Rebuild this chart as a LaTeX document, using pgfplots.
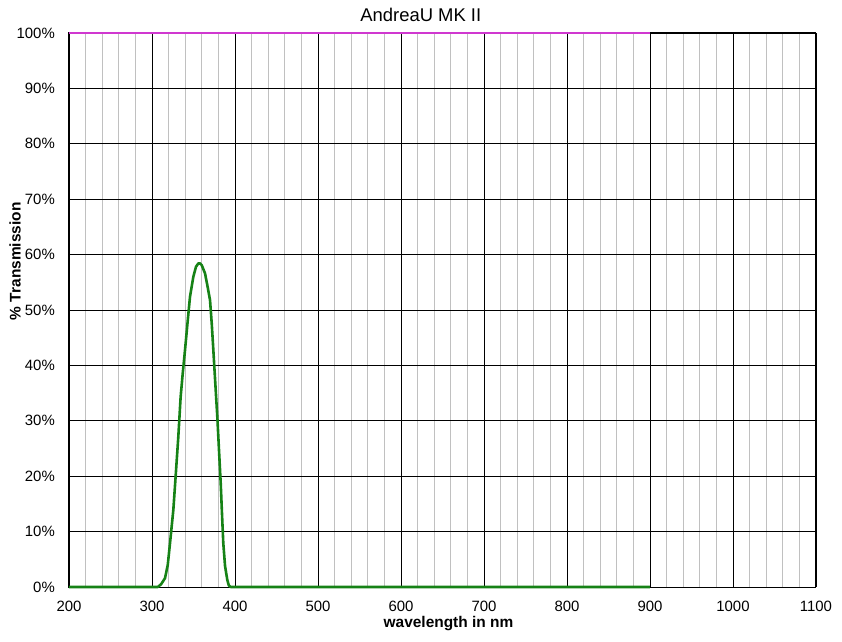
\documentclass[border=0pt]{standalone}
\usepackage{pgfplots}
\pgfplotsset{compat=1.18}
\usepackage{fontspec}
\setmainfont{Liberation Sans}
\definecolor{grn}{RGB}{22,130,22}
\definecolor{mag}{RGB}{208,56,208}
\definecolor{mgray}{RGB}{192,192,192}
\begin{document}
\begin{tikzpicture}
\useasboundingbox (-69bp,-55bp) rectangle (773bp,587bp);
\begin{axis}[
  at={(0,0)}, anchor=south west,
  scale only axis, width=747bp, height=554bp,
  xmin=200, xmax=1100, ymin=0, ymax=100,
  xtick={200,300,400,500,600,700,800,900,1000,1100},
  xticklabels={200,300,400,500,600,700,800,900,1000,1100},
  minor xtick={220,240,...,1080},
  ytick={0,10,20,30,40,50,60,70,80,90,100},
  yticklabels={0\%,10\%,20\%,30\%,40\%,50\%,60\%,70\%,80\%,90\%,100\%},
  xmajorgrids, ymajorgrids, xminorgrids,
  major grid style={black, line width=0.8bp},
  minor grid style={mgray, line width=0.8bp},
  major tick length=0pt, minor tick length=0pt,
  axis line style={black, line width=1bp},
  tick label style={font=\fontsize{15}{18}\selectfont},
  xticklabel style={anchor=base, inner sep=0pt, yshift=-24bp},
  yticklabel style={anchor=east, inner sep=0pt, xshift=-14bp},
  title={AndreaU MK II},
  title style={font=\fontsize{18.5}{22}\selectfont, at={(axis description cs:0.471,1.022)}, anchor=center, inner sep=0pt},
  xlabel={wavelength in nm},
  xlabel style={font=\fontsize{15.5}{18}\selectfont\bfseries, at={(axis description cs:0.508,-0.0722)}, anchor=base, inner sep=0pt},
  ylabel={\% Transmission},
  ylabel style={font=\fontsize{15.5}{18}\selectfont\bfseries, at={(axis description cs:-0.072,0.588)}, anchor=center, rotate=0, inner sep=0pt},
  clip=false,
]
\addplot[mag, line width=2.6bp] coordinates {(200,100) (900,100)};
\addplot[grn, line width=2.6bp, line join=round] coordinates {
(200,0) (300,0) (307,0) (311,0.5) (315.7,1.6) (319,4) (321.7,7.9) (325.7,13.9)
(328.5,20) (331.7,27.1) (334.5,34.3) (337,38.5) (339.8,42.8) (343,48) (345.8,52.4)
(349.8,56.0) (353,57.8) (355.8,58.4) (358,58.4) (359.9,58.1) (363.9,56.6) (367,54.2) (369.9,51.8)
(372,47.5) (373.9,42.8) (376.3,36.7) (378.7,30.7) (380.8,24.5) (382.8,18.7) (384.4,13)
(385.9,7.9) (388,3.8) (390.7,1.3) (392.5,0.3) (394.8,0) (400,0) (900,0)};
\end{axis}
\end{tikzpicture}
\end{document}
